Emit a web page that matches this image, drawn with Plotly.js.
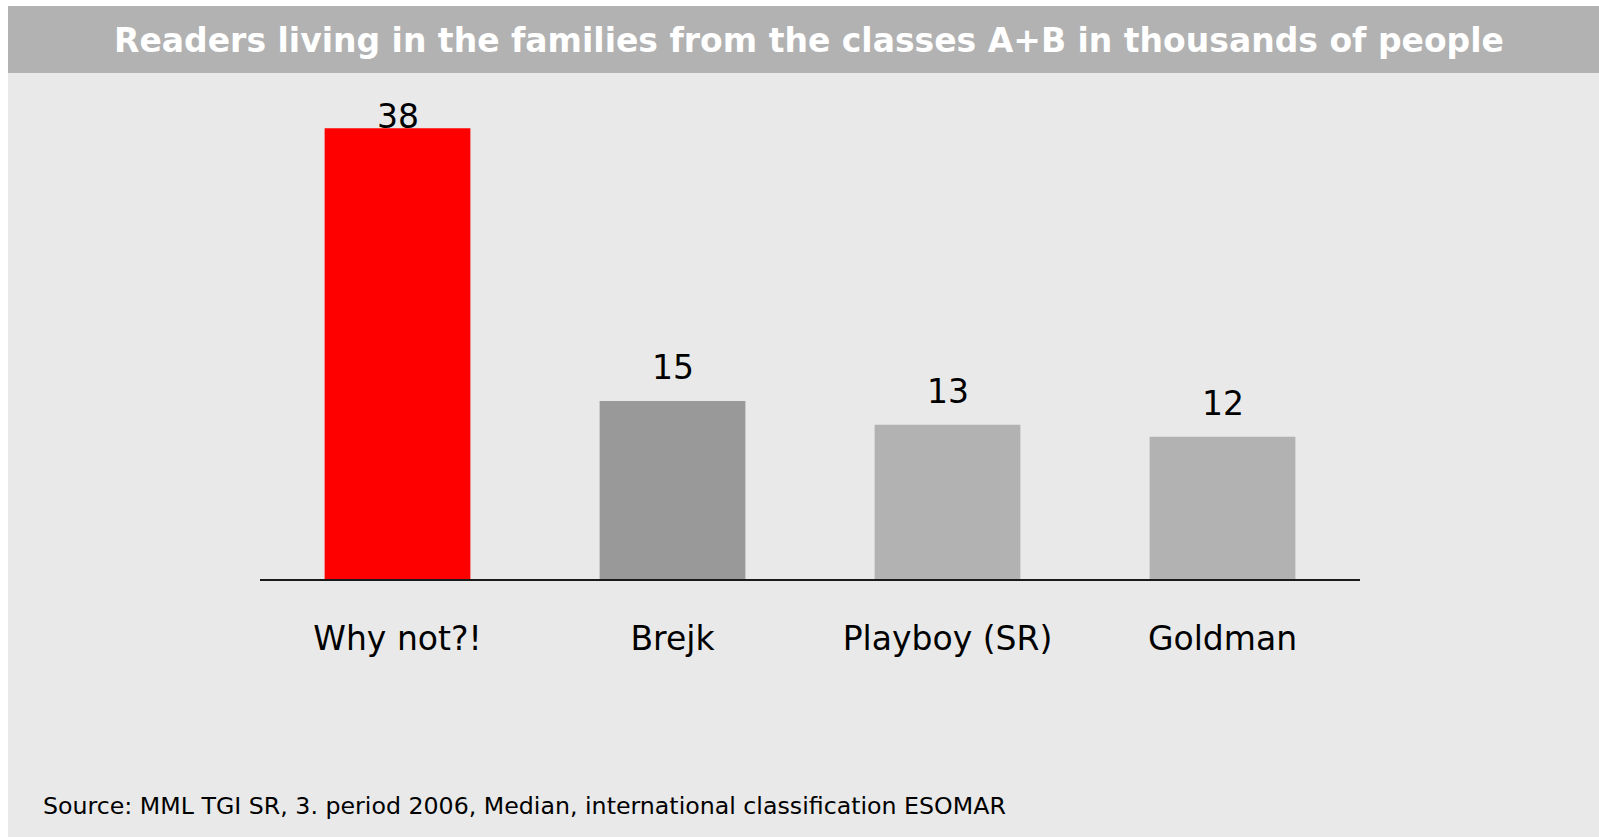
<!DOCTYPE html>
<html>
<head>
<meta charset="utf-8">
<script src="https://cdn.plot.ly/plotly-3.0.1.min.js"></script>
<style>html,body{margin:0;padding:0;background:#fff;}#chart{width:1599px;height:837px;}</style>
</head>
<body>
<div id="chart"></div>
<script>
// ---- data ----
const categories = ["Why not?!", "Brejk", "Playboy (SR)", "Goldman"];
const readers = [38, 15, 13, 12];
const barColors = ["#ff0000", "#999999", "#b2b2b2", "#b2b2b2"];
const titleText = "Readers living in the families from the classes A+B in thousands of people";
const sourceText = "Source: MML TGI SR, 3. period 2006, Median, international classification ESOMAR";

// ---- layout constants ----
const W = 1599, H = 837;
const mL = 260, mR = 239, mT = 95, mB = 258;
const yMax = 40.8;
const plotH = H - mT - mB;
const pxPerUnit = plotH / yMax;
const labelGapPx = 55; // label top above bar top
const FONT = "DejaVu Sans, Verdana, Tahoma, sans-serif";

const labelAnn = readers.map((v, i) => ({
  x: categories[i], xref: "x",
  y: Math.min(v + labelGapPx / pxPerUnit, yMax), yref: "y",
  yanchor: "top", xanchor: "center",
  text: String(v), showarrow: false,
  font: {family: FONT, size: 33, color: "#000"}
}));

const trace = {
  type: "bar",
  x: categories,
  y: readers,
  marker: {color: barColors, line: {width: 0}},
  hoverinfo: "x+y"
};

const layout = {
  width: W, height: H,
  paper_bgcolor: "#ffffff",
  plot_bgcolor: "rgba(0,0,0,0)",
  margin: {l: mL, r: mR, t: mT, b: mB, pad: 0},
  bargap: 0.47,
  showlegend: false,
  font: {family: FONT, color: "#000"},
  title: {
    text: "<b>" + titleText + "</b>",
    font: {family: FONT, size: 33, color: "#ffffff"},
    xref: "container", yref: "container",
    x: 809 / W, xanchor: "center",
    y: 1 - 40 / H, yanchor: "middle"
  },
  xaxis: {
    type: "category",
    range: [-0.5, categories.length - 0.5],
    showline: true, linecolor: "#1a1a1a", linewidth: 2,
    showgrid: false, zeroline: false,
    ticks: "", ticklabelstandoff: 29,
    tickfont: {family: FONT, size: 33, color: "#000"},
    fixedrange: true
  },
  yaxis: {
    range: [0, yMax],
    visible: false, showgrid: false, zeroline: false,
    fixedrange: true
  },
  shapes: [
    {type: "rect", xref: "paper", yref: "paper", layer: "below",
     x0: (8 - mL) / (W - mL - mR), x1: (W - mL) / (W - mL - mR),
     y0: (mB - H) / plotH, y1: (H - 6 - mB) / plotH,
     fillcolor: "#e9e9e9", line: {width: 0}},
    {type: "rect", xref: "paper", yref: "paper", layer: "below",
     x0: (8 - mL) / (W - mL - mR), x1: (W - mL) / (W - mL - mR),
     y0: (H - 73 - mB) / plotH, y1: (H - 6 - mB) / plotH,
     fillcolor: "#b2b2b2", line: {width: 0}}
  ],
  annotations: labelAnn.concat([{
    xref: "paper", yref: "paper",
    x: (41 - mL) / (W - mL - mR), xanchor: "left",
    y: (H - mB - 806) / plotH, yanchor: "middle",
    text: sourceText, showarrow: false,
    font: {family: FONT, size: 23.7, color: "#000"}
  }])
};

Plotly.newPlot("chart", [trace], layout, {displayModeBar: false, staticPlot: true});
</script>
</body>
</html>
